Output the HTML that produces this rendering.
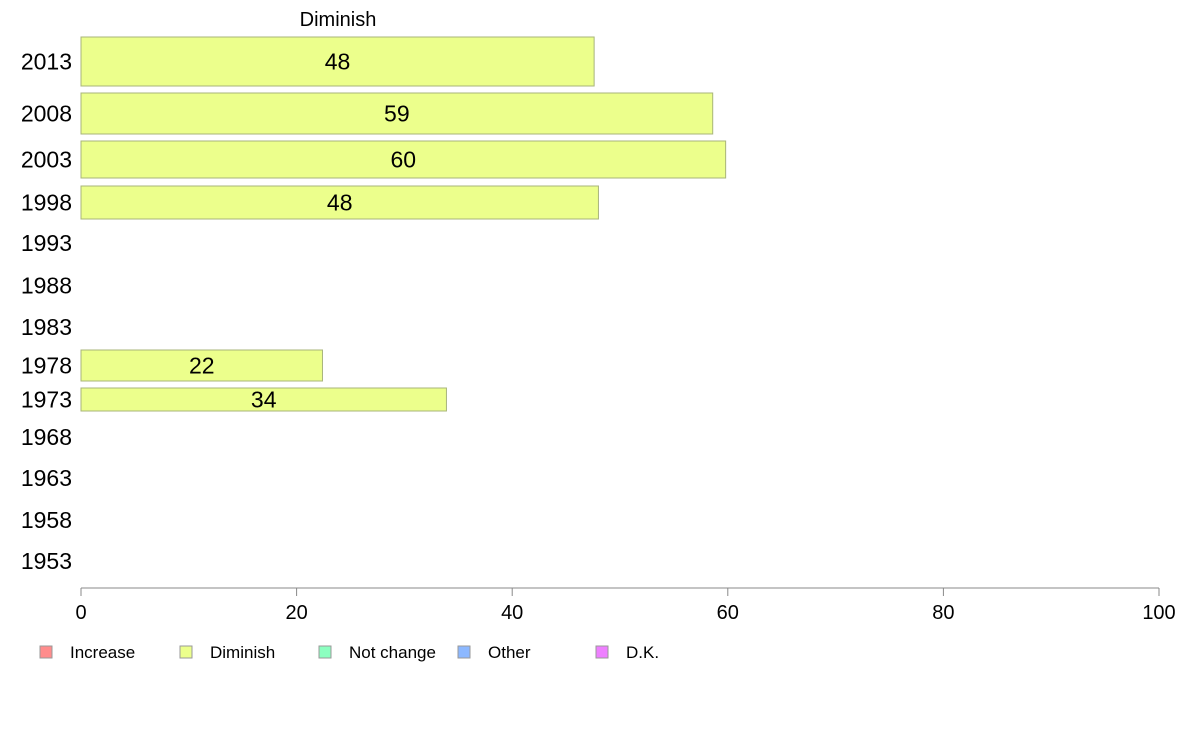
<!DOCTYPE html>
<html><head><meta charset="utf-8"><style>
body{margin:0;background:#fff;}
svg{display:block;font-family:"Liberation Sans",sans-serif;}
</style></head><body>
<svg id="chart" width="1188" height="736"></svg>
<script>
const categories=["2013","2008","2003","1998","1993","1988","1983","1978","1973","1968","1963","1958","1953"];
const diminishValues=[47.6,58.6,59.8,48,null,null,null,22.4,33.9,null,null,null,null];
const printedValues=["48","59","60","48","","","","22","34","","","",""];
const xTicks=[0,20,40,60,80,100];
const legendLabels=["Increase","Diminish","Not change","Other","D.K."];
const legendColors=["#ff8c8c","#ecff8c","#8cffc0","#8cb8ff","#ee80ff"];
// layout (pixel bands per row)
const rowTop=[37,93,141,186,226,268,310,350,388,420,460,502,544];
const rowBottom=[86,134,178,219,260,303,344,381,411,454,496,538,578];
const NS="http://www.w3.org/2000/svg";
const svg=document.getElementById('chart');
const x0=81,x1=1159;
function xs(v){return x0+(x1-x0)*v/100;}
function mk(t,a,txt){const e=document.createElementNS(NS,t);for(const k in a)e.setAttribute(k,a[k]);if(txt!==undefined)e.textContent=txt;svg.appendChild(e);return e;}
let t=mk('text',{x:338,y:26,'font-size':20,'text-anchor':'middle'},'Diminish');


categories.forEach((c,i)=>{
  const cy=(rowTop[i]+rowBottom[i])/2;
  const l=mk('text',{x:72,y:cy+8,'font-size':23,'text-anchor':'end'},c);
  
  
  if(diminishValues[i]!=null){
    const r=mk('rect',{x:x0,y:rowTop[i],width:xs(diminishValues[i])-x0,height:rowBottom[i]-rowTop[i],fill:'#ecff8c',stroke:'#a8b47a','stroke-width':1});
    
    
    const v=mk('text',{x:(x0+xs(diminishValues[i]))/2,y:cy+8,'font-size':23,'text-anchor':'middle'},printedValues[i]);
    
    
  }
});
const ax=mk('line',{x1:x0,y1:588,x2:x1,y2:588,stroke:'#888'});


xTicks.forEach(v=>{
  const tk=mk('line',{x1:xs(v),y1:588,x2:xs(v),y2:596,stroke:'#888'});
  
  
  const tl=mk('text',{x:xs(v),y:619,'font-size':20,'text-anchor':'middle'},String(v));
  
  
});
const lx=[40,180,319,458,596];
legendLabels.forEach((n,i)=>{
  const s=mk('rect',{x:lx[i],y:646,width:12,height:12,fill:legendColors[i],stroke:'#999'});
  
  
  const tx=mk('text',{x:lx[i]+30,y:658,'font-size':17},n);
  
  
});
</script>
</body></html>
